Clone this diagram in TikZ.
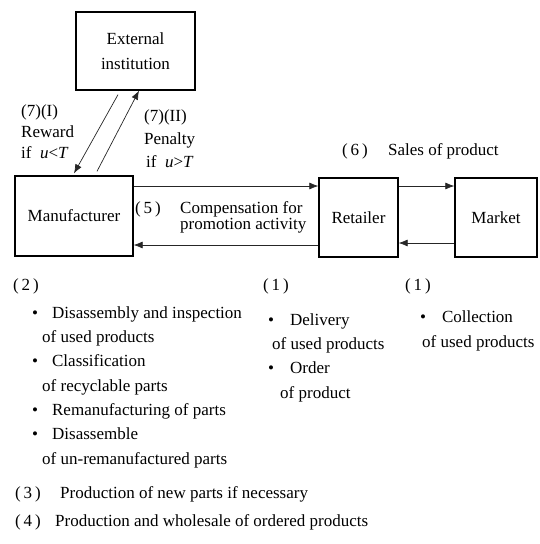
\documentclass[tikz,border=0pt]{standalone}
\usepackage{fontspec}
\setmainfont{Liberation Serif}
\usetikzlibrary{arrows.meta}
\tikzset{
  box/.style={draw, line width=1.3pt, inner sep=0pt, align=center},
  flow/.style={-{Latex[length=9pt,width=7pt]}, line width=0.7pt, black!85},
  lbl/.style={inner sep=0pt, anchor=base west, align=left},
}
\begin{document}
\begin{tikzpicture}[x=1pt,y=-1pt,font=\fontsize{17}{24.3}\selectfont]
\useasboundingbox (0,0) rectangle (540,544);
% actors
\draw (135.5,51) node[box, minimum width=119pt, minimum height=78pt, font=\fontsize{17}{25}\selectfont] (ext) {External\\institution};
\draw (74,216) node[box, minimum width=118pt, minimum height=80pt] (man) {Manufacturer};
\draw (358.5,217.5) node[box, minimum width=79pt, minimum height=79pt] (ret) {Retailer};
\draw (496,217.5) node[box, minimum width=82pt, minimum height=79pt] (mkt) {Market};
% flows
\draw[flow] ([xshift=-17.5pt,yshift=-4pt]ext.south) -- ([yshift=2pt]man.north);
\draw[flow] ([xshift=23pt,yshift=4pt]man.north) -- ([xshift=3.5pt]ext.south);
\draw[flow] ([yshift=30pt]man.east) -- ([yshift=30pt]man.east -| ret.west);
\draw[flow] ([yshift=-29pt]man.east -| ret.west) -- ([yshift=-29pt]man.east);
\draw[flow] ([yshift=31.5pt]ret.east) -- ([yshift=31.5pt]ret.east -| mkt.west);
\draw[flow] ([yshift=-25.5pt]ret.east -| mkt.west) -- ([yshift=-25.5pt]ret.east);
% labels (base = last line)
\draw (21,158) node[lbl, font=\fontsize{17}{21}\selectfont] (rew) {(7)(I)\\Reward\\if\ \ \textit{u}{<}\textit{T}};
\draw (144,167) node[lbl, font=\fontsize{17}{23}\selectfont] (pen) {(7)(II)\\Penalty\\\hspace{2pt}if\ \ \textit{u}{>}\textit{T}};
\draw (342,155) node[lbl] (sal) {\makebox[46pt][l]{(\,6\,)}Sales of product};
\draw (135,213) node[lbl] (n5) {(\,5\,)};
\draw (180,229) node[lbl, font=\fontsize{17}{16}\selectfont] (cmp) {Compensation for\\promotion activity};
% tasks
\draw (13,290) node[lbl] (n2) {(\,2\,)};
\draw (32,464) node[lbl] (tman) {\textbullet\hspace{14pt}Disassembly and inspection\\
  \hspace{10pt}of used products\\
  \textbullet\hspace{14pt}Classification\\
  \hspace{10pt}of recyclable parts\\
  \textbullet\hspace{14pt}Remanufacturing of parts\\
  \textbullet\hspace{14pt}Disassemble\\
  \hspace{10pt}of un-remanufactured parts};
\draw (263,290) node[lbl] (n1a) {(\,1\,)};
\draw (268,398) node[lbl] (tret) {\textbullet\hspace{16pt}Delivery\\
  \hspace{4pt}of used products\\
  \textbullet\hspace{16pt}Order\\
  \hspace{12pt}of product};
\draw (405,290) node[lbl] (n1b) {(\,1\,)};
\draw (420,347) node[lbl] (tmkt) {\textbullet\hspace{16pt}Collection\\
  \hspace{2pt}of used products};
\draw (15,498) node[lbl] (n3) {\makebox[45pt][l]{(\,3\,)}Production of new parts if necessary};
\draw (15,526) node[lbl] (n4) {\makebox[40pt][l]{(\,4\,)}Production and wholesale of ordered products};
\end{tikzpicture}
\end{document}
